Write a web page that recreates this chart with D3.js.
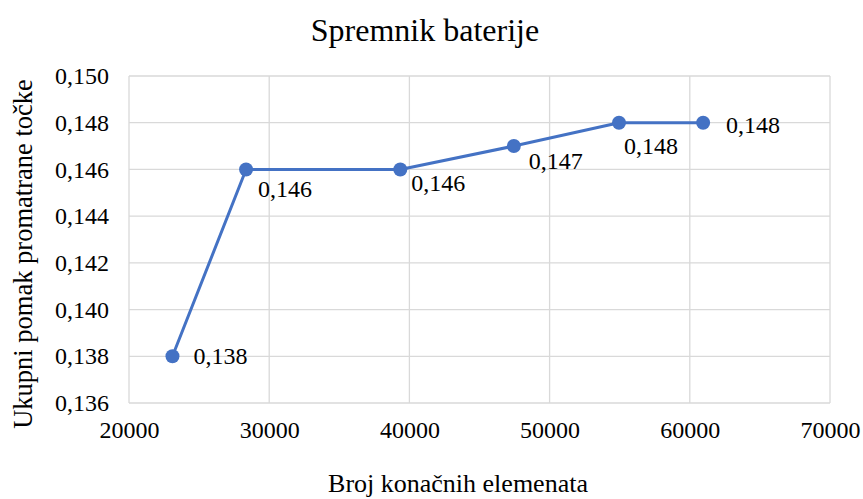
<!DOCTYPE html>
<html>
<head>
<meta charset="utf-8">
<script src="https://cdn.jsdelivr.net/npm/d3@7"></script>
<style>html, body { margin: 0; padding: 0; background: #fff; }</style>
</head>
<body>
<svg id="chart" width="863" height="499"></svg>
<script>
// Mesh convergence data: number of finite elements vs. total displacement
const elementCounts = [23100, 28350, 39350, 47450, 54950, 60950];
const displacements = [0.138, 0.146, 0.146, 0.147, 0.148, 0.148];
const xTicks = [20000, 30000, 40000, 50000, 60000, 70000];
const yTicks = [0.136, 0.138, 0.140, 0.142, 0.144, 0.146, 0.148, 0.150];
const chartTitle = "Spremnik baterije";
const xTitle = "Broj konačnih elemenata";
const yTitle = "Ukupni pomak promatrane točke";

const svg = d3.select("#chart");
const margin = { left: 129, right: 33, top: 76, bottom: 96 };
const W = 863, H = 499;
const serif = "'Liberation Serif', 'Times New Roman', serif";
const fontSize = "24px";
const axisTitleSize = "26.5px";

const x = d3.scaleLinear().domain([20000, 70000]).range([margin.left, W - margin.right]);
const y = d3.scaleLinear().domain([0.136, 0.150]).range([H - margin.bottom, margin.top]);

const fmt = d => d3.format(".3f")(d).replace(".", ",");
const gridColor = "#d9d9d9";
const lineColor = "#4472c4";

function styleText(sel, size) {
  return sel.style("font-family", serif).style("font-size", size).attr("fill", "#000");
}

// Gridlines
svg.append("g").selectAll("line").data(yTicks).join("line")
  .attr("x1", x.range()[0]).attr("x2", x.range()[1])
  .attr("y1", d => y(d)).attr("y2", d => y(d))
  .attr("stroke", gridColor).attr("stroke-width", 1.3);
svg.append("g").selectAll("line").data(xTicks).join("line")
  .attr("x1", d => x(d)).attr("x2", d => x(d))
  .attr("y1", y.range()[0]).attr("y2", y.range()[1])
  .attr("stroke", gridColor).attr("stroke-width", 1.3);

// Axes (tick labels only; the frame comes from the gridlines)
const xAxis = svg.append("g")
  .attr("transform", `translate(0,${y.range()[0]})`)
  .call(d3.axisBottom(x).tickValues(xTicks).tickSize(0).tickPadding(18).tickFormat(d3.format("d")));
xAxis.select(".domain").remove();
styleText(xAxis.selectAll("text"), fontSize);

const yAxis = svg.append("g")
  .attr("transform", `translate(${x.range()[0]},0)`)
  .call(d3.axisLeft(y).tickValues(yTicks).tickSize(0).tickPadding(20).tickFormat(fmt));
yAxis.select(".domain").remove();
styleText(yAxis.selectAll("text"), fontSize);

// Series line and markers
const pts = elementCounts.map((e, i) => ({ x: e, y: displacements[i] }));
svg.append("path").datum(pts)
  .attr("fill", "none").attr("stroke", lineColor).attr("stroke-width", 3)
  .attr("stroke-linejoin", "round")
  .attr("d", d3.line().x(d => x(d.x)).y(d => y(d.y)));

svg.append("g").selectAll("circle").data(pts).join("circle")
  .attr("cx", d => x(d.x)).attr("cy", d => y(d.y)).attr("r", 7)
  .attr("fill", lineColor);

// Data labels, offset from each marker
const labelOffsets = [[21, 0], [12, 20], [11, 14], [15, 15], [5, 23], [23, 2]];
styleText(svg.append("g").selectAll("text").data(pts).join("text")
  .attr("x", (d, i) => x(d.x) + labelOffsets[i][0])
  .attr("y", (d, i) => y(d.y) + labelOffsets[i][1])
  .attr("dominant-baseline", "central")
  .text(d => fmt(d.y)), fontSize);

// Titles
styleText(svg.append("text").attr("x", 425).attr("y", 30)
  .attr("text-anchor", "middle").attr("dominant-baseline", "central")
  .text(chartTitle), "32px");

styleText(svg.append("text").attr("x", 458).attr("y", 483)
  .attr("text-anchor", "middle").attr("dominant-baseline", "central")
  .text(xTitle), "26px");

styleText(svg.append("text")
  .attr("transform", `translate(23,254) rotate(-90)`)
  .attr("text-anchor", "middle").attr("dominant-baseline", "central")
  .text(yTitle), axisTitleSize);
</script>
</body>
</html>
